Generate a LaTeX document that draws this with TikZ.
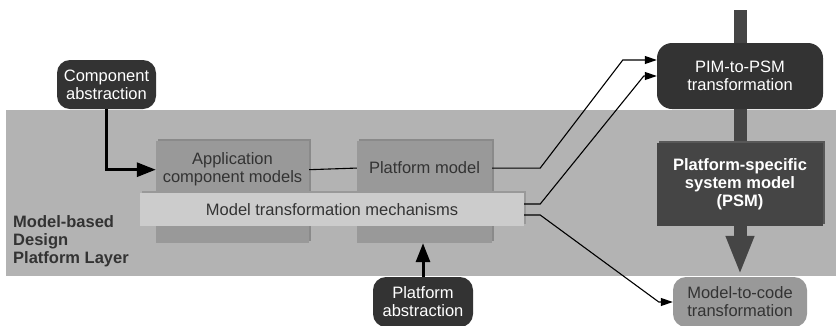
\documentclass[tikz,border=0pt]{standalone}
\usepackage{fontspec}
\setmainfont{Liberation Sans}
\usetikzlibrary{arrows.meta,positioning,shadows,backgrounds}
\definecolor{bandgray}{HTML}{B3B3B3}
\definecolor{boxgray}{HTML}{999999}
\definecolor{boxshade}{HTML}{8A8A8A}
\definecolor{bargray}{HTML}{CCCCCC}
\definecolor{darknode}{HTML}{333333}
\definecolor{psmgray}{HTML}{454545}
\definecolor{psmshade}{HTML}{585858}
\definecolor{textgray}{HTML}{333333}

\begin{document}
\begin{tikzpicture}[x=1pt,y=-1pt,font=\fontsize{16.5}{18}\selectfont,
    abstr node/.style={rounded corners=13pt,fill=darknode,text=white,align=center,inner sep=0pt},
    model box/.style={fill=boxgray,text=textgray,inner sep=0pt,
        general shadow={fill=boxshade,shadow xshift=2pt,shadow yshift=2pt}},
    box text/.style={text=textgray,align=center,inner sep=0pt},
    thin arrow/.style={-{Triangle[length=12pt,width=8pt]},line width=1.1pt},
    thick arrow/.style={-{Triangle[length=19pt,width=14pt]},line width=3pt}]
  \useasboundingbox (0,0) rectangle (836,325);
  % Nodes
  \node[abstr node,minimum width=99pt,minimum height=49pt] (compabs) at (106.5,84.5) {Component\\abstraction};
  \node[model box,minimum width=153pt,minimum height=102pt] (app) at (232.5,192) {};
  \node[box text,below=12pt of app.north] (apptxt) {Application\\component models};
  \node[model box,minimum width=135pt,minimum height=102pt] (plat) at (424.5,192) {};
  \node[box text,below=21pt of plat.north] (plattxt) {Platform model};
  \node[model box,fill=bargray,general shadow={fill=boxgray,shadow xshift=2pt,shadow yshift=2pt},
        minimum width=384pt,minimum height=33pt] (mtm) at (332,209.5) {Model transformation mechanisms};
  \node[abstr node,minimum width=100pt,minimum height=50pt] (platabs) at (423,302) {Platform\\abstraction};
  \node[abstr node,minimum width=166pt,minimum height=66pt,rounded corners=15pt] (pim) at (740,76) {PIM-to-PSM\\transformation};
  \node[fill=psmgray,text=white,font=\fontsize{16.5}{18}\selectfont\bfseries,align=center,inner sep=0pt,
        minimum width=166pt,minimum height=83pt,
        general shadow={fill=psmshade,shadow xshift=2pt,shadow yshift=2pt}] (psm) at (740,184.5)
        {Platform-specific\\system model\\(PSM)};
  \node[abstr node,fill=boxgray,text=textgray,minimum width=134pt,minimum height=50pt] (m2c) at (740,302) {Model-to-code\\transformation};
  \node[text=textgray,font=\fontsize{16.5}{18}\selectfont\bfseries,align=left,inner sep=0pt,anchor=west] (layer) at (13,241)
        {Model-based\\Design\\Platform Layer};

  % Band and main flow
  \begin{pgfonlayer}{background}
    \fill[bandgray] (6,110) rectangle (836,276);
    \coordinate (bartop) at (740,10);
    \draw[line width=13pt,draw=psmgray,shorten >=2pt,-{Triangle[length=39pt,width=26pt]}] (bartop) -- (m2c.north);
  \end{pgfonlayer}

  % Edges
  \draw[thick arrow] (compabs.south) |- (apptxt -| app.west);
  \draw[thick arrow] (platabs.north) -- (platabs.north |- plat.south);
  \draw[line width=1.1pt] (apptxt -| app.east) -- (plattxt -| plat.west);
  \draw[thin arrow] (plattxt -| plat.east) -- ++(48,0) -- ([xshift=-34pt,yshift=16pt]pim.west) -- ([yshift=16pt]pim.west);
  \draw[thin arrow] ([yshift=5.5pt]mtm.east) -- ++(16,0) -- ([xshift=-13pt]pim.west) -- (pim.west);
  \draw[thin arrow] ([yshift=-5.5pt]mtm.east) -- ++(16,0) -- ([xshift=-14pt]m2c.west) -- (m2c.west);
\end{tikzpicture}
\end{document}
